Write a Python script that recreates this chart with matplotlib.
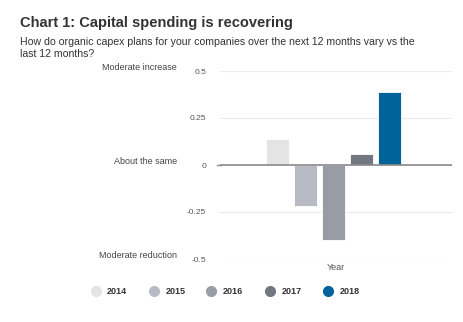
import matplotlib
matplotlib.use("Agg")
import matplotlib.pyplot as plt
from matplotlib.lines import Line2D

plt.rcParams['font.family'] = ['Liberation Sans', 'DejaVu Sans']

years = ['2014', '2015', '2016', '2017', '2018']
values = [0.14, -0.22, -0.40, 0.06, 0.39]
colors = ['#e4e4e4', '#b8bbc3', '#989ca5', '#737782', '#00649b']
yticks = [0.5, 0.25, 0, -0.25, -0.5]
ytick_labels = ['0.5', '0.25', '0', '-0.25', '-0.5']
side_labels = {0.5: 'Moderate increase', 0: 'About the same', -0.5: 'Moderate reduction'}

W, H = 464, 322
fig = plt.figure(figsize=(W/100, H/100), dpi=100)
ax = fig.add_axes([220/W, 1-259/H, 232/W, 188/H])

step = 0.1207
width = 0.097
center = -0.01
for i, (y, v, c) in enumerate(zip(years, values, colors)):
    x = center + (i-2)*step
    ax.bar(x, v, width=width, color=c, edgecolor='white', linewidth=0.6, zorder=3)

ax.set_xlim(-0.5, 0.5)
ax.set_ylim(-0.5, 0.5)
for t in yticks:
    ax.axhline(t, color='#ebebeb', lw=0.8, zorder=1)
ax.axhline(0, color='#8a8a8a', lw=1.2, zorder=4)
for s in ax.spines.values():
    s.set_visible(False)
ax.set_xticks([])
ax.set_yticks(yticks)
ax.set_yticklabels(ytick_labels, fontsize=6, color='#555555')
ax.tick_params(axis='y', length=0, pad=10)
ax.set_xlabel('Year', fontsize=6.5, color='#555555', labelpad=3)
# small zero tick on the left axis
ax.add_line(Line2D([-0.015, 0.005], [0.5, 0.5], transform=ax.transAxes,
                   color='#8a8a8a', lw=1.0, clip_on=False))

for val, lab in side_labels.items():
    ax.text(-0.185, val+0.02, lab, transform=ax.get_yaxis_transform(),
            ha='right', va='center', fontsize=6.5, color='#444444')

fig.text(20/W, 1-27/H, 'Chart 1: Capital spending is recovering', fontsize=10.5,
         fontweight='bold', color='#333333', ha='left', va='baseline')
fig.text(20/W, 1-45/H, 'How do organic capex plans for your companies over the next 12 months vary vs the',
         fontsize=7.6, color='#333333', ha='left', va='baseline')
fig.text(20/W, 1-57/H, 'last 12 months?',
         fontsize=7.6, color='#333333', ha='left', va='baseline')

handles = [Line2D([0], [0], marker='o', linestyle='', markersize=7, markerfacecolor=c,
                  markeredgecolor=c) for c in colors]
leg = fig.legend(handles, years, loc='center', bbox_to_anchor=(223/W, 1-292/H),
                 ncol=5, frameon=False, handletextpad=0.3, columnspacing=1.9,
                 prop={'weight': 'bold', 'size': 6.5})
for t in leg.get_texts():
    t.set_color('#333333')

fig.savefig('out.png', dpi=100)
